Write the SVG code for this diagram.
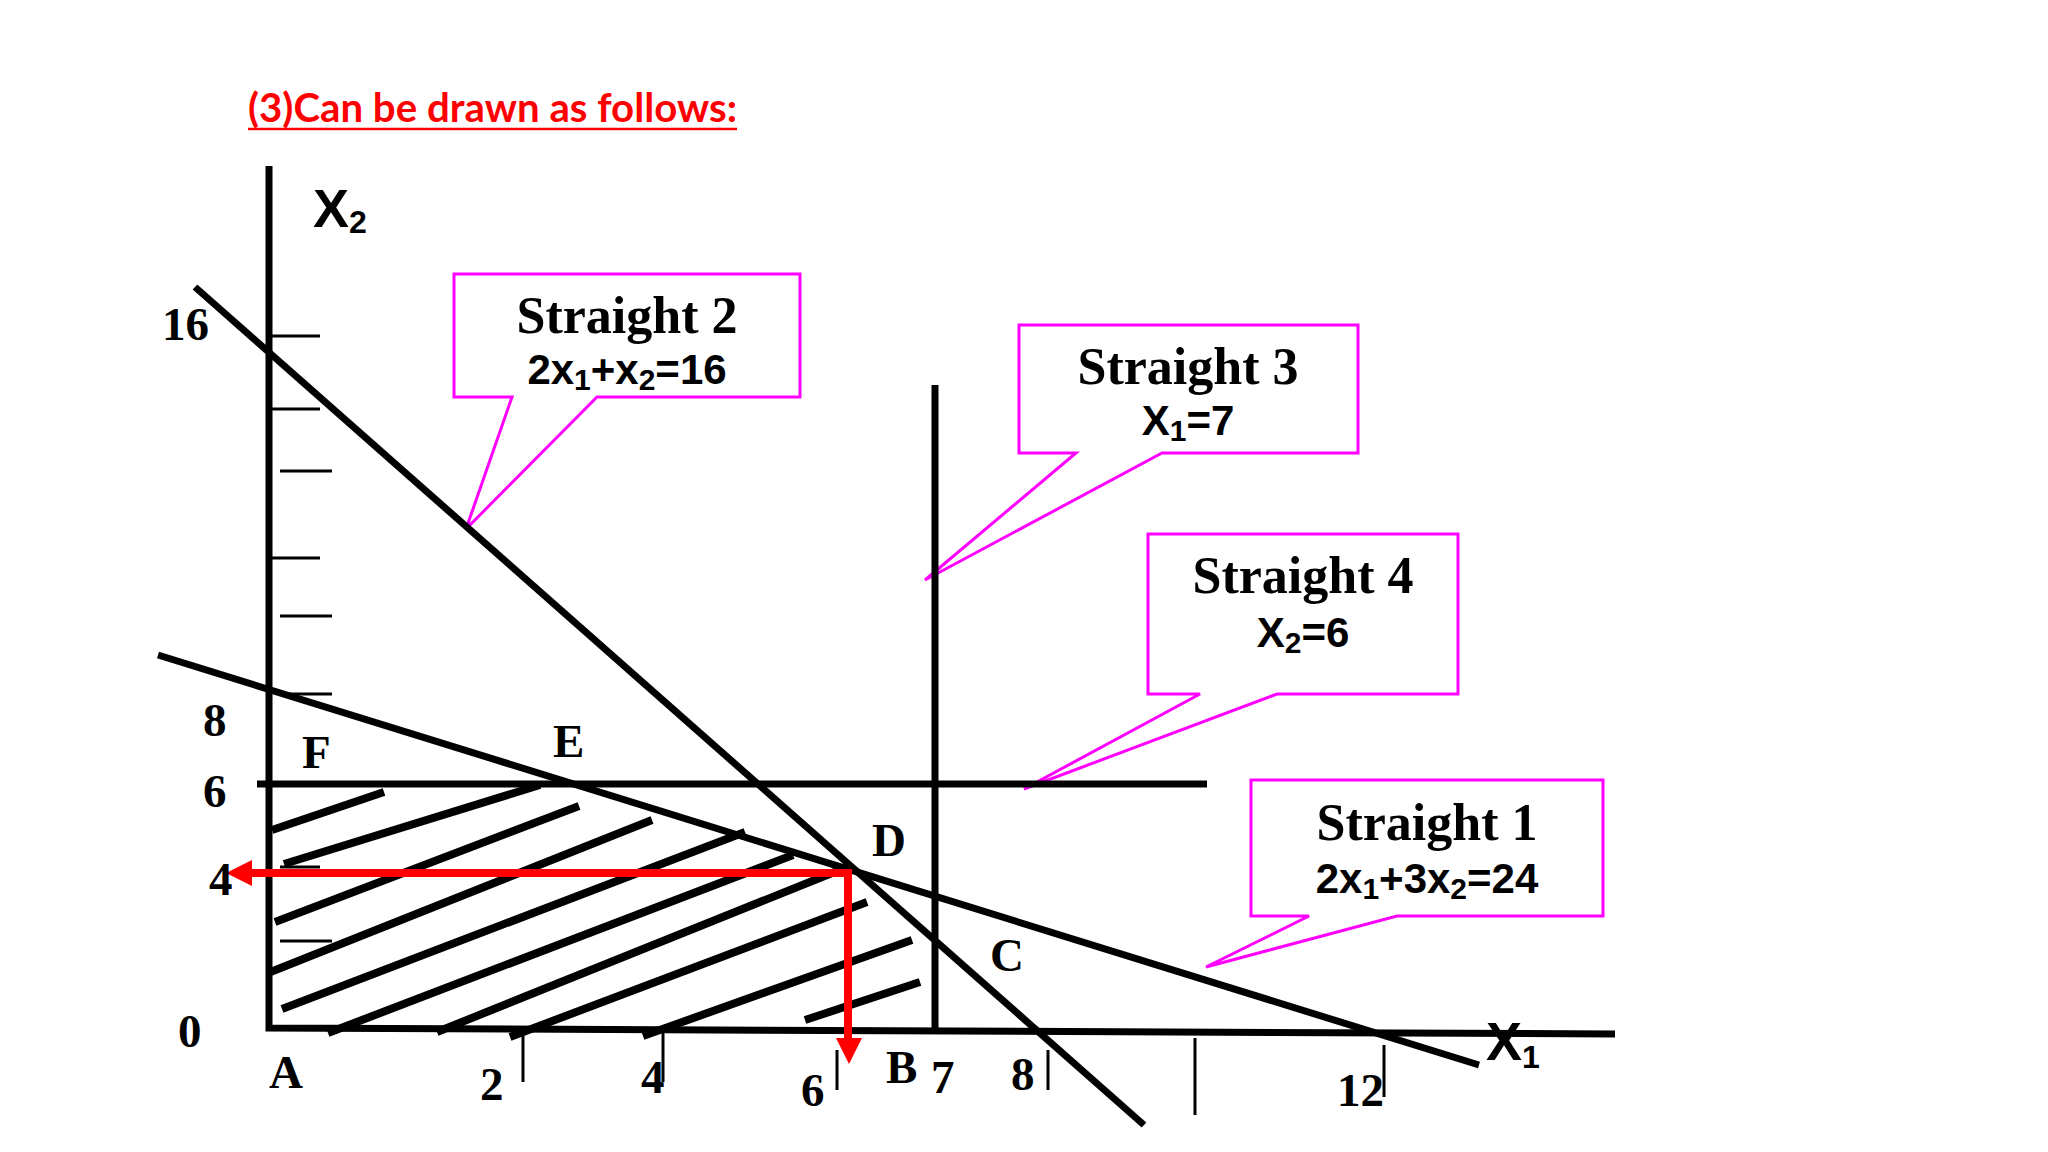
<svg xmlns="http://www.w3.org/2000/svg" width="2048" height="1152" viewBox="0 0 2048 1152">
<style>
.ln{stroke:#000;stroke-width:7;fill:none;stroke-linecap:butt}
.hatch{stroke:#000;stroke-width:8;fill:none}
.tk{stroke:#000;stroke-width:3;fill:none}
.callout{fill:#fff;stroke:#f0f;stroke-width:3;stroke-linejoin:miter}
.num{font-family:"Liberation Serif","Times New Roman",serif;font-weight:bold;font-size:47px;fill:#000}
.head{font-family:"Liberation Serif","Times New Roman",serif;font-weight:bold;font-size:52px;fill:#000;text-anchor:middle}
.eq{font-family:"Liberation Sans",Arial,sans-serif;font-weight:bold;font-size:42px;fill:#000;text-anchor:middle}
.ax{font-family:"Liberation Sans",Arial,sans-serif;font-weight:bold;font-size:54px;fill:#000}
.red{stroke:#f00;stroke-width:8;fill:none}
</style>
<rect width="2048" height="1152" fill="#fff"/>
<g id="title">
<text x="248" y="122" font-family="Lato,'Open Sans',sans-serif" font-weight="bold" font-size="40" fill="#f00" textLength="489" lengthAdjust="spacingAndGlyphs">(3)Can be drawn as follows:</text>
<line x1="248" y1="129" x2="737" y2="129" stroke="#f00" stroke-width="2.5"/>
</g>
<g id="callout-straight2">
<path class="callout" d="M454,274 H800 V397 H597 L466,529 L512,397 H454 Z"/>
<text class="head" x="627" y="333">Straight 2</text>
<text class="eq" x="627" y="384">2x<tspan font-size="30" dy="6">1</tspan><tspan dy="-6">+x</tspan><tspan font-size="30" dy="6">2</tspan><tspan dy="-6">=16</tspan></text>
</g>
<g id="callout-straight3">
<path class="callout" d="M1019,325 H1358 V453 H1162 L925,580 L1076,453 H1019 Z"/>
<text class="head" x="1188" y="384">Straight 3</text>
<text class="eq" x="1188" y="435">X<tspan font-size="30" dy="6">1</tspan><tspan dy="-6">=7</tspan></text>
</g>
<g id="callout-straight4">
<path class="callout" d="M1148,534 H1458 V694 H1277 L1024,789 L1200,694 H1148 Z"/>
<text class="head" x="1303" y="593">Straight 4</text>
<text class="eq" x="1303" y="647">X<tspan font-size="30" dy="6">2</tspan><tspan dy="-6">=6</tspan></text>
</g>
<g id="callout-straight1">
<path class="callout" d="M1251,780 H1603 V916 H1397 L1206,967 L1309,916 H1251 Z"/>
<text class="head" x="1427" y="840">Straight 1</text>
<text class="eq" x="1427" y="893">2x<tspan font-size="30" dy="6">1</tspan><tspan dy="-6">+3x</tspan><tspan font-size="30" dy="6">2</tspan><tspan dy="-6">=24</tspan></text>
</g>
<g id="hatching">
<line class="hatch" x1="272" y1="830" x2="384" y2="792"/>
<line class="hatch" x1="284" y1="864" x2="540" y2="785"/>
<line class="hatch" x1="275" y1="922" x2="579" y2="806"/>
<line class="hatch" x1="268" y1="973" x2="652" y2="820"/>
<line class="hatch" x1="282" y1="1009" x2="745" y2="832"/>
<line class="hatch" x1="328" y1="1033" x2="793" y2="855"/>
<line class="hatch" x1="437" y1="1032" x2="847" y2="867"/>
<line class="hatch" x1="510" y1="1037" x2="867" y2="902"/>
<line class="hatch" x1="643" y1="1036" x2="912" y2="940"/>
<line class="hatch" x1="805" y1="1020" x2="920" y2="982"/>
</g>
<g id="connectors">
<path class="ln" d="M269,166 V1028 L1615,1034" stroke-linejoin="miter"/>
<line class="ln" x1="158" y1="655" x2="1479" y2="1065"/>
<line class="ln" x1="195" y1="287" x2="1144" y2="1125"/>
<line class="ln" x1="935" y1="385" x2="935" y2="1030"/>
<line class="ln" x1="257" y1="784" x2="1207" y2="784"/>
<g id="y-ticks">
<line class="tk" x1="269" y1="336" x2="320" y2="336"/>
<line class="tk" x1="269" y1="409" x2="320" y2="409"/>
<line class="tk" x1="280" y1="471" x2="332" y2="471"/>
<line class="tk" x1="269" y1="558" x2="320" y2="558"/>
<line class="tk" x1="280" y1="616" x2="332" y2="616"/>
<line class="tk" x1="280" y1="694" x2="332" y2="694"/>
<line class="tk" x1="280" y1="867" x2="320" y2="867"/>
<line class="tk" x1="280" y1="941" x2="332" y2="941"/>
</g>
<g id="x-ticks">
<line class="tk" x1="523" y1="1033" x2="523" y2="1082"/>
<line class="tk" x1="663" y1="1033" x2="663" y2="1082"/>
<line class="tk" x1="837" y1="1050" x2="837" y2="1090"/>
<line class="tk" x1="1048" y1="1050" x2="1048" y2="1090"/>
<line class="tk" x1="1195" y1="1038" x2="1195" y2="1115"/>
<line class="tk" x1="1384" y1="1045" x2="1384" y2="1097"/>
</g>
<g id="optimum-arrows">
<path class="red" d="M852,873 H248"/>
<polygon points="226,873 252,860 252,886" fill="#f00"/>
<path class="red" d="M848,869 V1040"/>
<polygon points="849,1064 836,1038 862,1038" fill="#f00"/>
</g>
</g>
<g id="labels">
<text class="ax" x="313" y="227">X<tspan font-size="32" dy="6">2</tspan></text>
<text class="ax" x="1486" y="1060">X<tspan font-size="32" dy="8">1</tspan></text>
<text class="num" x="162" y="340">16</text>
<text class="num" x="203" y="736">8</text>
<text class="num" x="203" y="807">6</text>
<text class="num" x="209" y="895">4</text>
<text class="num" x="178" y="1047">0</text>
<text class="num" x="269" y="1088">A</text>
<text class="num" x="480" y="1100">2</text>
<text class="num" x="641" y="1093">4</text>
<text class="num" x="801" y="1106">6</text>
<text class="num" x="886" y="1083">B</text>
<text class="num" x="931" y="1093">7</text>
<text class="num" x="1011" y="1090">8</text>
<text class="num" x="1337" y="1106">12</text>
<text class="num" x="990" y="971">C</text>
<text class="num" x="872" y="856">D</text>
<text class="num" x="553" y="757">E</text>
<text class="num" x="302" y="768">F</text>
</g>
</svg>
